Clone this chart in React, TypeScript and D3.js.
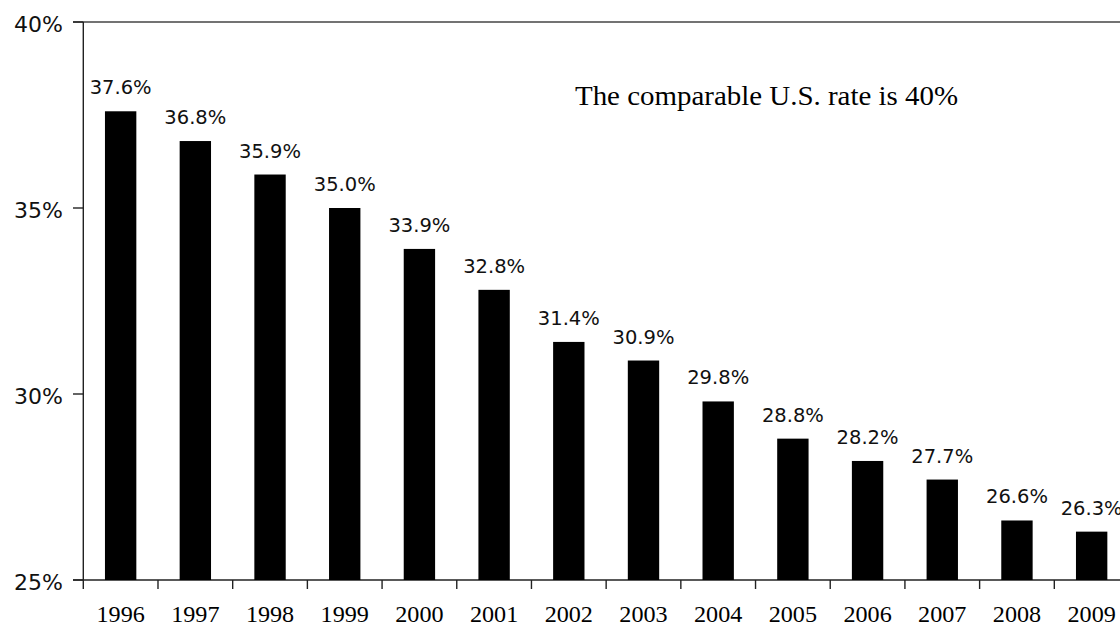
import React from "react";
import * as d3 from "d3";

const years = ["1996","1997","1998","1999","2000","2001","2002","2003","2004","2005","2006","2007","2008","2009"];
const rates = [37.6, 36.8, 35.9, 35.0, 33.9, 32.8, 31.4, 30.9, 29.8, 28.8, 28.2, 27.7, 26.6, 26.3];
const yTicks = [25, 30, 35, 40];
const annotation = "The comparable U.S. rate is 40%";

const W = 1120;
const H = 628;
const left = 83.3;
const right = 1129;
const top = 22;
const bottom = 580;

export default function App() {
  const x = d3.scaleBand<string>().domain(years).range([left, right]).padding(0);
  const bw = x.bandwidth() * 0.42;
  const y = d3.scaleLinear().domain([25, 40]).range([bottom, top]);
  const serif = "'Liberation Serif', 'Times New Roman', serif";
  const sans = "'DejaVu Sans', Verdana, sans-serif";

  return (
    <svg
      width={W}
      height={H}
      style={{ position: "absolute", left: 0, top: 0, overflow: "hidden", background: "#fff" }}
    >
      {/* top border line */}
      <line x1={73} x2={W} y1={y(40)} y2={y(40)} stroke="#444" strokeWidth={1.6} />
      {/* y axis */}
      <line x1={left} x2={left} y1={y(40)} y2={y(25)} stroke="#222" strokeWidth={1.4} />
      {yTicks.map((t) => (
        <g key={t}>
          <line x1={73} x2={left} y1={y(t)} y2={y(t)} stroke="#222" strokeWidth={1.4} />
          <text
            x={63}
            y={y(t) + 9.5}
            textAnchor="end"
            fontFamily={sans}
            fontSize={22}
            fill="#111"
          >
            {t}%
          </text>
        </g>
      ))}
      {/* x axis */}
      <line x1={73} x2={W} y1={y(25)} y2={y(25)} stroke="#222" strokeWidth={1.4} />
      {years.map((yr) => (
        <line
          key={"t" + yr}
          x1={x(yr)!}
          x2={x(yr)!}
          y1={y(25)}
          y2={y(25) + 9}
          stroke="#222"
          strokeWidth={1.4}
        />
      ))}
      {/* bars */}
      {years.map((yr, i) => {
        const cx = x(yr)! + x.bandwidth() / 2;
        return (
          <g key={yr}>
            <rect x={cx - bw / 2} y={y(rates[i])} width={bw} height={y(25) - y(rates[i])} fill="#000" />
            <text
              x={cx}
              y={y(rates[i]) - 17}
              textAnchor="middle"
              fontFamily={sans}
              fontSize={19.5}
              fill="#111"
            >
              {rates[i].toFixed(1)}%
            </text>
            <text
              x={cx}
              y={622}
              textAnchor="middle"
              fontFamily={serif}
              fontSize={23}
              fill="#000"
              transform={`translate(${cx},0) scale(1.05,1) translate(${-cx},0)`}
            >
              {yr}
            </text>
          </g>
        );
      })}
      <text
        x={575}
        y={105}
        fontFamily={serif}
        fontSize={27.5}
        fill="#000"
        textLength={383}
        lengthAdjust="spacingAndGlyphs"
      >
        {annotation}
      </text>
    </svg>
  );
}
